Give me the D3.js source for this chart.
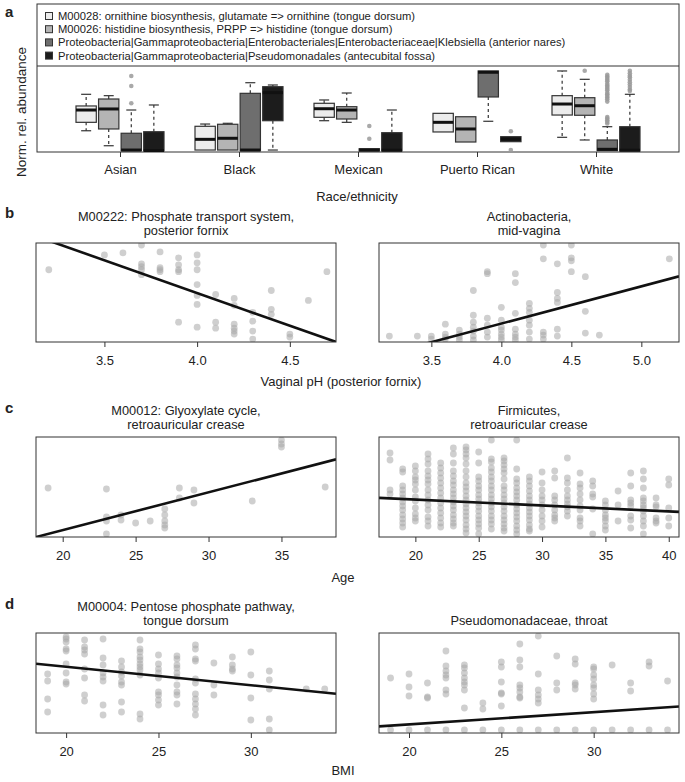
<!DOCTYPE html>
<html><head><meta charset="utf-8">
<script src="https://cdn.jsdelivr.net/npm/d3@7"></script>
<style>
body{margin:0;background:#fff}
text{font-family:"Liberation Sans",Arial,Helvetica,sans-serif;fill:#222}
</style>
</head><body>
<svg id="chart" width="685" height="782"></svg>
<script>
// ---------------- Panel a data ----------------
const races = ["Asian","Black","Mexican","Puerto Rican","White"];
const seriesNames = [
  "M00028: ornithine biosynthesis, glutamate => ornithine (tongue dorsum)",
  "M00026: histidine biosynthesis, PRPP => histidine (tongue dorsum)",
  "Proteobacteria|Gammaproteobacteria|Enterobacteriales|Enterobacteriaceae|Klebsiella (anterior nares)",
  "Proteobacteria|Gammaproteobacteria|Pseudomonadales (antecubital fossa)"
];
const seriesFills = ["#ececec","#b4b4b4","#6e6e6e","#1c1c1c"];
// [whiskerLow, q1, median, q3, whiskerHigh] per race
const boxM00028 = [[0.25,0.354,0.506,0.556,0.70],[0.012,0.012,0.144,0.305,0.333],[0.374,0.416,0.522,0.589,0.630],[0.235,0.235,0.354,0.465,0.465],[0.169,0.444,0.580,0.683,0.988]];
const boxM00026 = [[0.065,0.272,0.519,0.642,0.683],[0.012,0.012,0.157,0.330,0.342],[0.354,0.395,0.506,0.547,0.716],[0.111,0.111,0.272,0.423,0.423],[0.136,0.441,0.559,0.658,0.885]];
const boxKlebsiella = [[0,0.004,0.012,0.219,0.506],[0,0.004,0.012,0.712,0.843],[0,0,0.012,0.028,0.028],[0.367,0.667,0.972,0.988,0.988],[0,0.004,0.021,0.136,0.30]];
const boxPseudomonadales = [[0,0,0.006,0.238,0.568],[0.012,0.374,0.72,0.794,0.815],[0,0,0.01,0.226,0.506],[0.115,0.115,0.148,0.177,0.177],[0,0,0.01,0.30,0.70]];
const outM00028 = [[],[],[],[],[]];
const outM00026 = [[],[],[],[],[0.991]];
const outKlebsiella = [[0.926,0.802,0.589],[],[0.309,0.152],[],[0.94,0.92,0.90,0.88,0.86,0.83,0.81,0.79,0.77,0.75,0.72,0.70,0.68,0.66,0.64,0.61,0.42,0.40,0.38,0.36,0.34]];
const outPseudomonadales = [[],[],[],[0.243,0.012],[0.99,0.96,0.93,0.91,0.88,0.85,0.82,0.79,0.76,0.74]];

// ---------------- Panel b data (vaginal pH) ----------------
const phLevelsPF = [3.2,3.5,3.6,3.7,3.8,3.9,4.0,4.1,4.2,4.3,4.4,4.5,4.6,4.7];
const valsM00222 = [[0.73],[0.88],[0.90],[0.98,0.79,0.76,0.73,0.68],[0.91,0.75,0.73,0.71],[0.85,0.78,0.73,0.71,0.20],[0.88,0.80,0.73,0.58,0.47,0.38,0.15],[0.48,0.20,0.14],[0.44,0.37,0.18,0.14,0.11,0.08],[0.30,0.21,0.11,0.03],[0.52,0.33,0.28],[0.08,0.05],[0.42],[0.71]];
const phLevelsMV = [3.2,3.4,3.5,3.6,3.7,3.8,3.9,4.0,4.1,4.2,4.3,4.4,4.5,4.6,4.7,5.2];
const valsActino = [[0.06],[0.06],[0.06,0.03],[0.18,0.08,0.05,0.03],[0.12,0.08,0.05,0.02],[0.52,0.27,0.20,0.15,0.11,0.06,0.02],[0.71,0.69,0.24,0.17,0.10,0.05],[0.35,0.22,0.15,0.12,0.08,0.05,0.02],[0.69,0.60,0.29,0.13,0.08,0.05,0.02],[0.39,0.34,0.30,0.22,0.17,0.10,0.03],[0.98,0.84,0.10,0.07,0.03],[0.79,0.50,0.44,0.40,0.13,0.06],[0.98,0.85,0.82,0.71],[0.66,0.31,0.09],[0.07],[0.84]];
const phTicksPF = [3.5,4.0,4.5];
const phTicksMV = [3.5,4.0,4.5,5.0];

// ---------------- Panel c data (age) ----------------
const agesGlyox = [19,23,24,25,26,27,28,29,33,35,38];
const valsGlyox = [[0.49],[0.48,0.20,0.16,0.03],[0.22,0.17],[0.14],[0.16],[0.28,0.22,0.16,0.12,0.09],[0.49,0.39],[0.47,0.34],[0.36],[0.97,0.93,0.90],[0.50]];
const agesFirm = [18,19,20,21,22,23,24,25,26,27,28,29,30,31,32,33,34,35,36,37,38,39,40];
const valsFirm = [
 [0.84,0.77,0.47,0.43],
 [0.68,0.65,0.51,0.47,0.43,0.39,0.35,0.31,0.27,0.22,0.18,0.14,0.10],
 [0.71,0.66,0.60,0.57,0.53,0.47,0.40,0.36,0.29,0.23,0.19,0.16],
 [0.83,0.78,0.73,0.66,0.61,0.57,0.53,0.47,0.42,0.37,0.32,0.27,0.20,0.16,0.11],
 [0.74,0.69,0.64,0.59,0.54,0.49,0.44,0.39,0.34,0.29,0.24,0.19,0.14,0.10],
 [0.89,0.83,0.74,0.66,0.61,0.56,0.52,0.47,0.43,0.39,0.35,0.31,0.27,0.22,0.18,0.14,0.11],
 [0.90,0.87,0.83,0.79,0.73,0.66,0.60,0.54,0.50,0.46,0.41,0.37,0.33,0.29,0.25,0.21,0.17,0.12,0.08,0.04],
 [0.85,0.74,0.60,0.56,0.51,0.47,0.42,0.38,0.34,0.30,0.26,0.21,0.17,0.13,0.09,0.03],
 [0.97,0.78,0.75,0.69,0.65,0.60,0.56,0.51,0.47,0.42,0.38,0.34,0.30,0.26,0.21,0.17,0.13,0.08],
 [0.79,0.76,0.72,0.68,0.64,0.58,0.51,0.47,0.42,0.38,0.34,0.30,0.26,0.21,0.17,0.13,0.09,0.06],
 [0.97,0.68,0.58,0.54,0.49,0.45,0.41,0.37,0.32,0.28,0.24,0.20,0.16,0.11,0.07,0.03],
 [0.60,0.56,0.51,0.46,0.41,0.37,0.33,0.29,0.25,0.21,0.17,0.12,0.08,0.06],
 [0.65,0.54,0.47,0.41,0.37,0.32,0.27,0.21,0.16,0.10],
 [0.66,0.59,0.41,0.37,0.32,0.27,0.22,0.19,0.16],
 [0.79,0.59,0.54,0.47,0.41,0.37,0.33,0.30,0.26,0.21],
 [0.64,0.53,0.49,0.43,0.37,0.31,0.27,0.19,0.16,0.11],
 [0.56,0.51,0.43,0.40,0.28,0.03],
 [0.36,0.32,0.27,0.22,0.19,0.16,0.11,0.07],
 [0.46,0.32,0.16],
 [0.64,0.51,0.37,0.34,0.31,0.21,0.17,0.09],
 [0.66,0.58,0.49,0.39,0.36,0.32,0.29,0.26,0.21,0.16,0.11,0.03],
 [0.39,0.32,0.30,0.19,0.16,0.14],
 [0.58,0.52,0.29,0.19,0.11]
];
const ageTicksGlyox = [20,25,30,35];
const ageTicksFirm = [20,25,30,35,40];

// ---------------- Panel d data (BMI) ----------------
const bmiPentose = [19,20,21,22,23,24,25,26,27,28,29,30,31,33,34];
const valsPentose = [[0.59,0.52,0.34,0.21],[0.96,0.94,0.91,0.84,0.82,0.69,0.60,0.51,0.49],[0.93,0.86,0.83,0.79,0.64,0.55,0.38,0.32],[0.94,0.75,0.68,0.60,0.56,0.52,0.28,0.18],[0.72,0.66,0.61,0.57,0.51,0.48,0.31,0.21],[0.93,0.84,0.81,0.76,0.73,0.69,0.66,0.63,0.58,0.19,0.14],[0.78,0.69,0.64,0.60,0.55,0.41,0.38,0.33,0.28],[0.77,0.74,0.68,0.65,0.60,0.56,0.48,0.41,0.38,0.29],[0.88,0.84,0.74,0.72,0.54,0.50,0.39,0.34,0.29,0.24,0.18],[0.70,0.48,0.38],[0.76,0.68,0.64,0.62],[0.81,0.58,0.35,0.13],[0.62,0.53,0.44,0.14,0.03],[0.44],[0.44]];
const bmiPseudo = [19,20,21,22,23,24,25,26,27,28,29,30,31,32,33,34];
const valsPseudo = [[0.55,0.03],[0.59,0.46,0.37,0.03],[0.50,0.36,0.35,0.03],[0.82,0.67,0.62,0.58,0.55,0.43,0.39,0.03],[0.68,0.65,0.60,0.55,0.51,0.48,0.43,0.25,0.03],[0.30,0.24,0.03],[0.71,0.66,0.51,0.40,0.39,0.27,0.03],[0.89,0.73,0.66,0.48,0.45,0.41,0.36,0.35,0.03],[0.97,0.59,0.43,0.38,0.34,0.30,0.03],[0.77,0.50,0.43,0.03],[0.74,0.69,0.50,0.48,0.44,0.03],[0.66,0.64,0.58,0.54,0.48,0.45,0.39,0.34,0.03],[0.68,0.03],[0.50,0.42,0.03],[0.71,0.67,0.03],[0.52,0.03]];
const bmiTicks = [20,25,30];

// regression fits: [intercept, slope]
const fitM00222 = [3.137,-0.6605];
const fitActino = [-1.3175,0.3759];
const fitGlyox = [-0.6863,0.03777];
const fitFirm = [0.4923,-0.005912];
const fitPentose = [1.0323,-0.01847];
const fitPseudo = [-0.1591,0.01225];

// ================= drawing =================
const svg = d3.select("#chart");
const FONT = 13;

// ---- panel letters
[["a",17],["b",218],["c",413],["d",609]].forEach(([t,y])=>{
  svg.append("text").attr("x",5).attr("y",y).attr("font-size",15).attr("font-weight","bold").text(t);
});

// ---- Panel a
const aL=37,aR=679,aT=4,aDiv=66,aB=152;
svg.append("rect").attr("x",aL).attr("y",aT).attr("width",aR-aL).attr("height",aB-aT)
  .attr("fill","none").attr("stroke","#333").attr("stroke-width",1);
svg.append("line").attr("x1",aL).attr("x2",aR).attr("y1",aDiv).attr("y2",aDiv).attr("stroke","#333");

// legend
seriesNames.forEach((n,i)=>{
  const by = 20 + i*13.2;
  svg.append("rect").attr("x",45.5).attr("y",by-7.5).attr("width",7).attr("height",7)
    .attr("fill",seriesFills[i]).attr("stroke","#333").attr("stroke-width",1);
  svg.append("text").attr("x",58).attr("y",by).attr("font-size",11.2).text(n);
});

const xRace = d3.scalePoint().domain(races).range([120,596]);
const xSeries = d3.scaleBand().domain([0,1,2,3]).range([-44,44]).paddingInner(0.1).paddingOuter(0);
const yA = d3.scaleLinear().domain([0,1]).range([151,70]);
const allBoxes = [boxM00028,boxM00026,boxKlebsiella,boxPseudomonadales];
const allOut = [outM00028,outM00026,outKlebsiella,outPseudomonadales];
const gA = svg.append("g");
const bw = xSeries.bandwidth();
allBoxes.forEach((ser,s)=>{
  ser.forEach((st,r)=>{
    const [wl,q1,md,q3,wh] = st;
    const x0 = xRace(races[r]) + xSeries(s);
    const cx = x0 + bw/2;
    const g = gA.append("g");
    if (wh - q3 > 0.005) {
      g.append("line").attr("x1",cx).attr("x2",cx).attr("y1",yA(q3)).attr("y2",yA(wh))
        .attr("stroke","#333").attr("stroke-width",1.2).attr("stroke-dasharray","3,3");
      g.append("line").attr("x1",cx-5).attr("x2",cx+5).attr("y1",yA(wh)).attr("y2",yA(wh))
        .attr("stroke","#333").attr("stroke-width",1.2);
    }
    if (q1 - wl > 0.005) {
      g.append("line").attr("x1",cx).attr("x2",cx).attr("y1",yA(q1)).attr("y2",yA(wl))
        .attr("stroke","#333").attr("stroke-width",1.2).attr("stroke-dasharray","3,3");
      g.append("line").attr("x1",cx-5).attr("x2",cx+5).attr("y1",yA(wl)).attr("y2",yA(wl))
        .attr("stroke","#333").attr("stroke-width",1.2);
    }
    g.append("rect").attr("x",x0).attr("width",bw).attr("y",yA(q3)).attr("height",Math.max(1,yA(q1)-yA(q3)))
      .attr("fill",seriesFills[s]).attr("stroke","#333").attr("stroke-width",1.2);
    g.append("line").attr("x1",x0).attr("x2",x0+bw).attr("y1",yA(md)).attr("y2",yA(md))
      .attr("stroke","#111").attr("stroke-width",3);
    allOut[s][r].forEach(v=>{
      g.append("circle").attr("cx",cx).attr("cy",yA(v)).attr("r",2.3).attr("fill","#9a9a9a").attr("fill-opacity",0.85);
    });
  });
});
const axA = svg.append("g").attr("transform",`translate(0,${aB})`)
  .call(d3.axisBottom(xRace).tickSize(5).tickPadding(8));
axA.select(".domain").remove();
axA.selectAll(".tick line").attr("stroke","#333");
axA.selectAll("text").attr("font-size",FONT).attr("font-family",null).attr("fill","#222");
svg.append("text").attr("x",357).attr("y",200.5).attr("text-anchor","middle").attr("font-size",FONT).text("Race/ethnicity");
svg.append("text").attr("transform","translate(26,112) rotate(-90)").attr("text-anchor","middle")
  .attr("font-size",13.5).text("Norm. rel. abundance");

// ---- Scatter panels
let clipId = 0;
function scatter(cfg){
  const {x0,x1,y0,y1,domain,ticks,fmt,levels,vals,fit,title} = cfg;
  const x = d3.scaleLinear().domain(domain).range([x0,x1]);
  const y = d3.scaleLinear().domain([0,1]).range([y1,y0]);
  const id = "clip"+(clipId++);
  svg.append("clipPath").attr("id",id).append("rect").attr("x",x0).attr("y",y0).attr("width",x1-x0).attr("height",y1-y0);
  const g = svg.append("g");
  const pts = levels.flatMap((lv,i)=>vals[i].map(v=>[lv,v]));
  g.append("g").attr("clip-path",`url(#${id})`).selectAll("circle").data(pts).join("circle")
    .attr("cx",d=>x(d[0])).attr("cy",d=>y(d[1])).attr("r",3.4)
    .attr("fill","#a8a8a8").attr("fill-opacity",0.55);
  g.append("line").attr("clip-path",`url(#${id})`)
    .attr("x1",x(domain[0])).attr("y1",y(fit[0]+fit[1]*domain[0]))
    .attr("x2",x(domain[1])).attr("y2",y(fit[0]+fit[1]*domain[1]))
    .attr("stroke","#111").attr("stroke-width",2.6);
  g.append("rect").attr("x",x0).attr("y",y0).attr("width",x1-x0).attr("height",y1-y0)
    .attr("fill","none").attr("stroke","#333").attr("stroke-width",1);
  const ax = g.append("g").attr("transform",`translate(0,${y1})`)
    .call(d3.axisBottom(x).tickValues(ticks).tickFormat(d3.format(fmt)).tickSize(5).tickPadding(8.5));
  ax.select(".domain").remove();
  ax.selectAll(".tick line").attr("stroke","#333");
  ax.selectAll("text").attr("font-size",FONT).attr("font-family",null).attr("fill","#222");
  const cx = (x0+x1)/2;
  title.forEach((t,i)=>{
    g.append("text").attr("x",cx).attr("y",y0-8.5-(title.length-1-i)*13.6)
      .attr("text-anchor","middle").attr("font-size",12.8).text(t);
  });
}
const LX0=36,LX1=336,RX0=379,RX1=679;
scatter({x0:LX0,x1:LX1,y0:243,y1:342,domain:[3.131,4.749],ticks:phTicksPF,fmt:".1f",levels:phLevelsPF,vals:valsM00222,fit:fitM00222,title:["M00222: Phosphate transport system,","posterior fornix"]});
scatter({x0:RX0,x1:RX1,y0:243,y1:342,domain:[3.126,5.269],ticks:phTicksMV,fmt:".1f",levels:phLevelsMV,vals:valsActino,fit:fitActino,title:["Actinobacteria,","mid-vagina"]});
scatter({x0:LX0,x1:LX1,y0:437,y1:537,domain:[18.17,38.74],ticks:ageTicksGlyox,fmt:"d",levels:agesGlyox,vals:valsGlyox,fit:fitGlyox,title:["M00012: Glyoxylate cycle,","retroauricular crease"]});
scatter({x0:RX0,x1:RX1,y0:437,y1:537,domain:[17.13,40.81],ticks:ageTicksFirm,fmt:"d",levels:agesFirm,vals:valsFirm,fit:fitFirm,title:["Firmicutes,","retroauricular crease"]});
scatter({x0:LX0,x1:LX1,y0:633,y1:733,domain:[18.37,34.61],ticks:bmiTicks,fmt:"d",levels:bmiPentose,vals:valsPentose,fit:fitPentose,title:["M00004: Pentose phosphate pathway,","tongue dorsum"]});
scatter({x0:RX0,x1:RX1,y0:633,y1:733,domain:[18.375,34.62],ticks:bmiTicks,fmt:"d",levels:bmiPseudo,vals:valsPseudo,fit:fitPseudo,title:["Pseudomonadaceae, throat"]});

svg.append("text").attr("x",341).attr("y",385.5).attr("text-anchor","middle").attr("font-size",FONT).text("Vaginal pH (posterior fornix)");
svg.append("text").attr("x",343).attr("y",581.5).attr("text-anchor","middle").attr("font-size",FONT).text("Age");
svg.append("text").attr("x",343).attr("y",774.5).attr("text-anchor","middle").attr("font-size",FONT).text("BMI");
</script>
</body></html>
